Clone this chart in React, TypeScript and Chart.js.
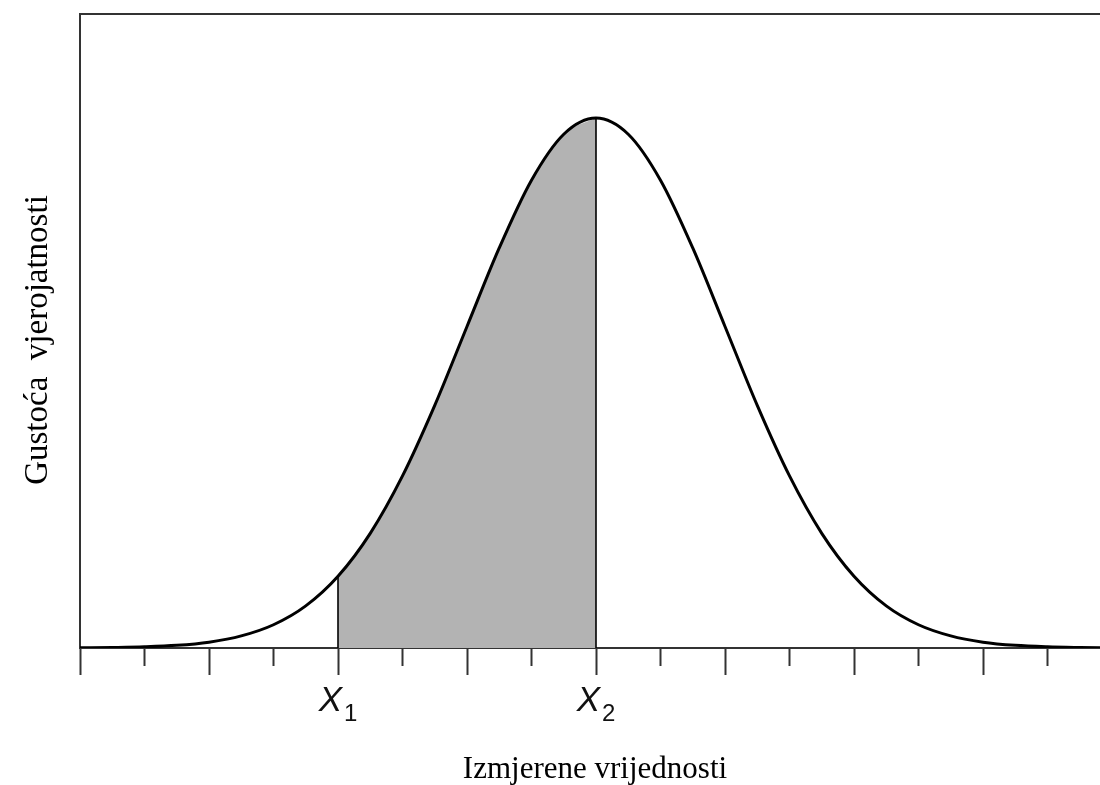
import React, { useEffect, useRef } from "react";
import { Chart, registerables } from "chart.js";

Chart.register(...registerables);

const zValues = [
  -4, -3.75, -3.5, -3.25, -3, -2.75, -2.5, -2.25, -2, -1.75, -1.5, -1.25, -1, -0.75, -0.5, -0.25,
  0, 0.25, 0.5, 0.75, 1, 1.25, 1.5, 1.75, 2, 2.25, 2.5, 2.75, 3, 3.25, 3.5, 3.75, 4,
];
const densityValues = [
  0.0001, 0.0004, 0.0009, 0.002, 0.0044, 0.0091, 0.0175, 0.0317, 0.054, 0.0863, 0.1295, 0.1826,
  0.242, 0.3011, 0.3521, 0.3867, 0.3989, 0.3867, 0.3521, 0.3011, 0.242, 0.1826, 0.1295, 0.0863,
  0.054, 0.0317, 0.0175, 0.0091, 0.0044, 0.002, 0.0009, 0.0004, 0.0001,
];
const shadeFrom = -2;
const shadeTo = 0;

const tickValues = [-4, -3.5, -3, -2.5, -2, -1.5, -1, -0.5, 0, 0.5, 1, 1.5, 2, 2.5, 3, 3.5];
const majorTickValues = [-4, -3, -2, -1, 0, 1, 2, 3];
const labelValues = [-2, 0];
const labelMain = ["X", "X"];
const labelSub = ["1", "2"];

const xTitle = "Izmjerene vrijednosti";
const yTitle = "Gustoća  vjerojatnosti";

const xMin = -4;
const xMax = 3.907;
const yMin = 0;
const yMax = 0.4772;

const curvePoints = zValues.map((z, i) => ({ x: z, y: densityValues[i] }));
const shadePoints = curvePoints.filter((p) => p.x >= shadeFrom && p.x <= shadeTo);
const densityAt = (z: number) => densityValues[zValues.indexOf(z)];

const INK = "#333333";
const SERIF = "'Liberation Serif', 'Times New Roman', serif";
const SANS = "'Liberation Sans', Arial, sans-serif";

const decorPlugin = {
  id: "decor",
  afterDraw(chart: any) {
    const { ctx, chartArea, scales } = chart;
    const x = scales.x;
    ctx.save();
    // top frame line
    ctx.strokeStyle = INK;
    ctx.lineWidth = 2;
    ctx.beginPath();
    ctx.moveTo(chartArea.left - 1, chartArea.top);
    ctx.lineTo(chartArea.right, chartArea.top);
    ctx.stroke();
    // tick marks
    tickValues.forEach((v) => {
      const px = Math.round(x.getPixelForValue(v)) + 0.5;
      const len = majorTickValues.includes(v) ? 27 : 18;
      ctx.beginPath();
      ctx.moveTo(px, chartArea.bottom);
      ctx.lineTo(px, chartArea.bottom + len);
      ctx.stroke();
    });
    // tick labels X1, X2
    ctx.fillStyle = "#111111";
    ctx.textBaseline = "alphabetic";
    ctx.textAlign = "left";
    const mainFont = "italic 35px " + SANS;
    const subFont = "24px " + SANS;
    labelValues.forEach((v, i) => {
      ctx.font = mainFont;
      const wMain = ctx.measureText(labelMain[i]).width;
      ctx.font = subFont;
      const wSub = ctx.measureText(labelSub[i]).width;
      const gap = 2;
      const total = wMain + gap + wSub;
      const cx = x.getPixelForValue(v);
      const left = cx - total / 2;
      ctx.font = mainFont;
      ctx.fillText(labelMain[i], left, chartArea.bottom + 63);
      ctx.font = subFont;
      ctx.fillText(labelSub[i], left + wMain + gap, chartArea.bottom + 73);
    });
    // axis titles
    ctx.fillStyle = "#000000";
    ctx.textAlign = "center";
    ctx.textBaseline = "alphabetic";
    ctx.font = "31px " + SERIF;
    ctx.fillText(xTitle, chartArea.left + 515, chartArea.bottom + 130);
    ctx.save();
    ctx.translate(chartArea.left - 33, chartArea.top + 326);
    ctx.rotate(-Math.PI / 2);
    ctx.font = "33px " + SERIF;
    ctx.fillText(yTitle, 0, 0);
    ctx.restore();
    ctx.restore();
  },
};

export default function App() {
  const canvasRef = useRef<HTMLCanvasElement | null>(null);

  useEffect(() => {
    const canvas = canvasRef.current;
    if (!canvas) return;
    const chart = new Chart(canvas, {
      type: "line",
      data: {
        datasets: [
          {
            label: "density",
            data: curvePoints,
            borderColor: "#000000",
            borderWidth: 3,
            pointRadius: 0,
            cubicInterpolationMode: "monotone",
            fill: false,
            order: 0,
          },
          {
            label: "x1",
            data: [
              { x: shadeFrom, y: 0 },
              { x: shadeFrom, y: densityAt(shadeFrom) },
            ],
            borderColor: "#000000",
            borderWidth: 1.6,
            pointRadius: 0,
            fill: false,
            order: 1,
          },
          {
            label: "x2",
            data: [
              { x: shadeTo, y: 0 },
              { x: shadeTo, y: densityAt(shadeTo) },
            ],
            borderColor: "#000000",
            borderWidth: 1.6,
            pointRadius: 0,
            fill: false,
            order: 1,
          },
          {
            label: "area",
            data: shadePoints,
            borderWidth: 0,
            borderColor: "rgba(0,0,0,0)",
            backgroundColor: "#b3b3b3",
            pointRadius: 0,
            cubicInterpolationMode: "monotone",
            fill: "origin",
            order: 2,
          },
        ],
      },
      options: {
        animation: false,
        responsive: false,
        layout: { padding: { top: 14, right: 0, bottom: 0, left: 0 } },
        plugins: { legend: { display: false }, tooltip: { enabled: false } },
        scales: {
          x: {
            type: "linear",
            min: xMin,
            max: xMax,
            grid: { display: false },
            border: { display: true, color: INK, width: 2 },
            ticks: { display: false },
            afterFit: (s: any) => {
              s.height = 785 - 648;
            },
            title: { display: false, text: xTitle },
          },
          y: {
            type: "linear",
            min: yMin,
            max: yMax,
            grid: { display: false },
            border: { display: true, color: INK, width: 2 },
            ticks: { display: false },
            afterFit: (s: any) => {
              s.width = 80;
            },
            title: { display: false, text: yTitle },
          },
        },
      },
      plugins: [decorPlugin],
    });
    return () => chart.destroy();
  }, []);

  return (
    <div style={{ position: "absolute", left: 0, top: 0, width: 1100, height: 785, background: "#ffffff" }}>
      <canvas ref={canvasRef} width={1100} height={785} />
    </div>
  );
}
